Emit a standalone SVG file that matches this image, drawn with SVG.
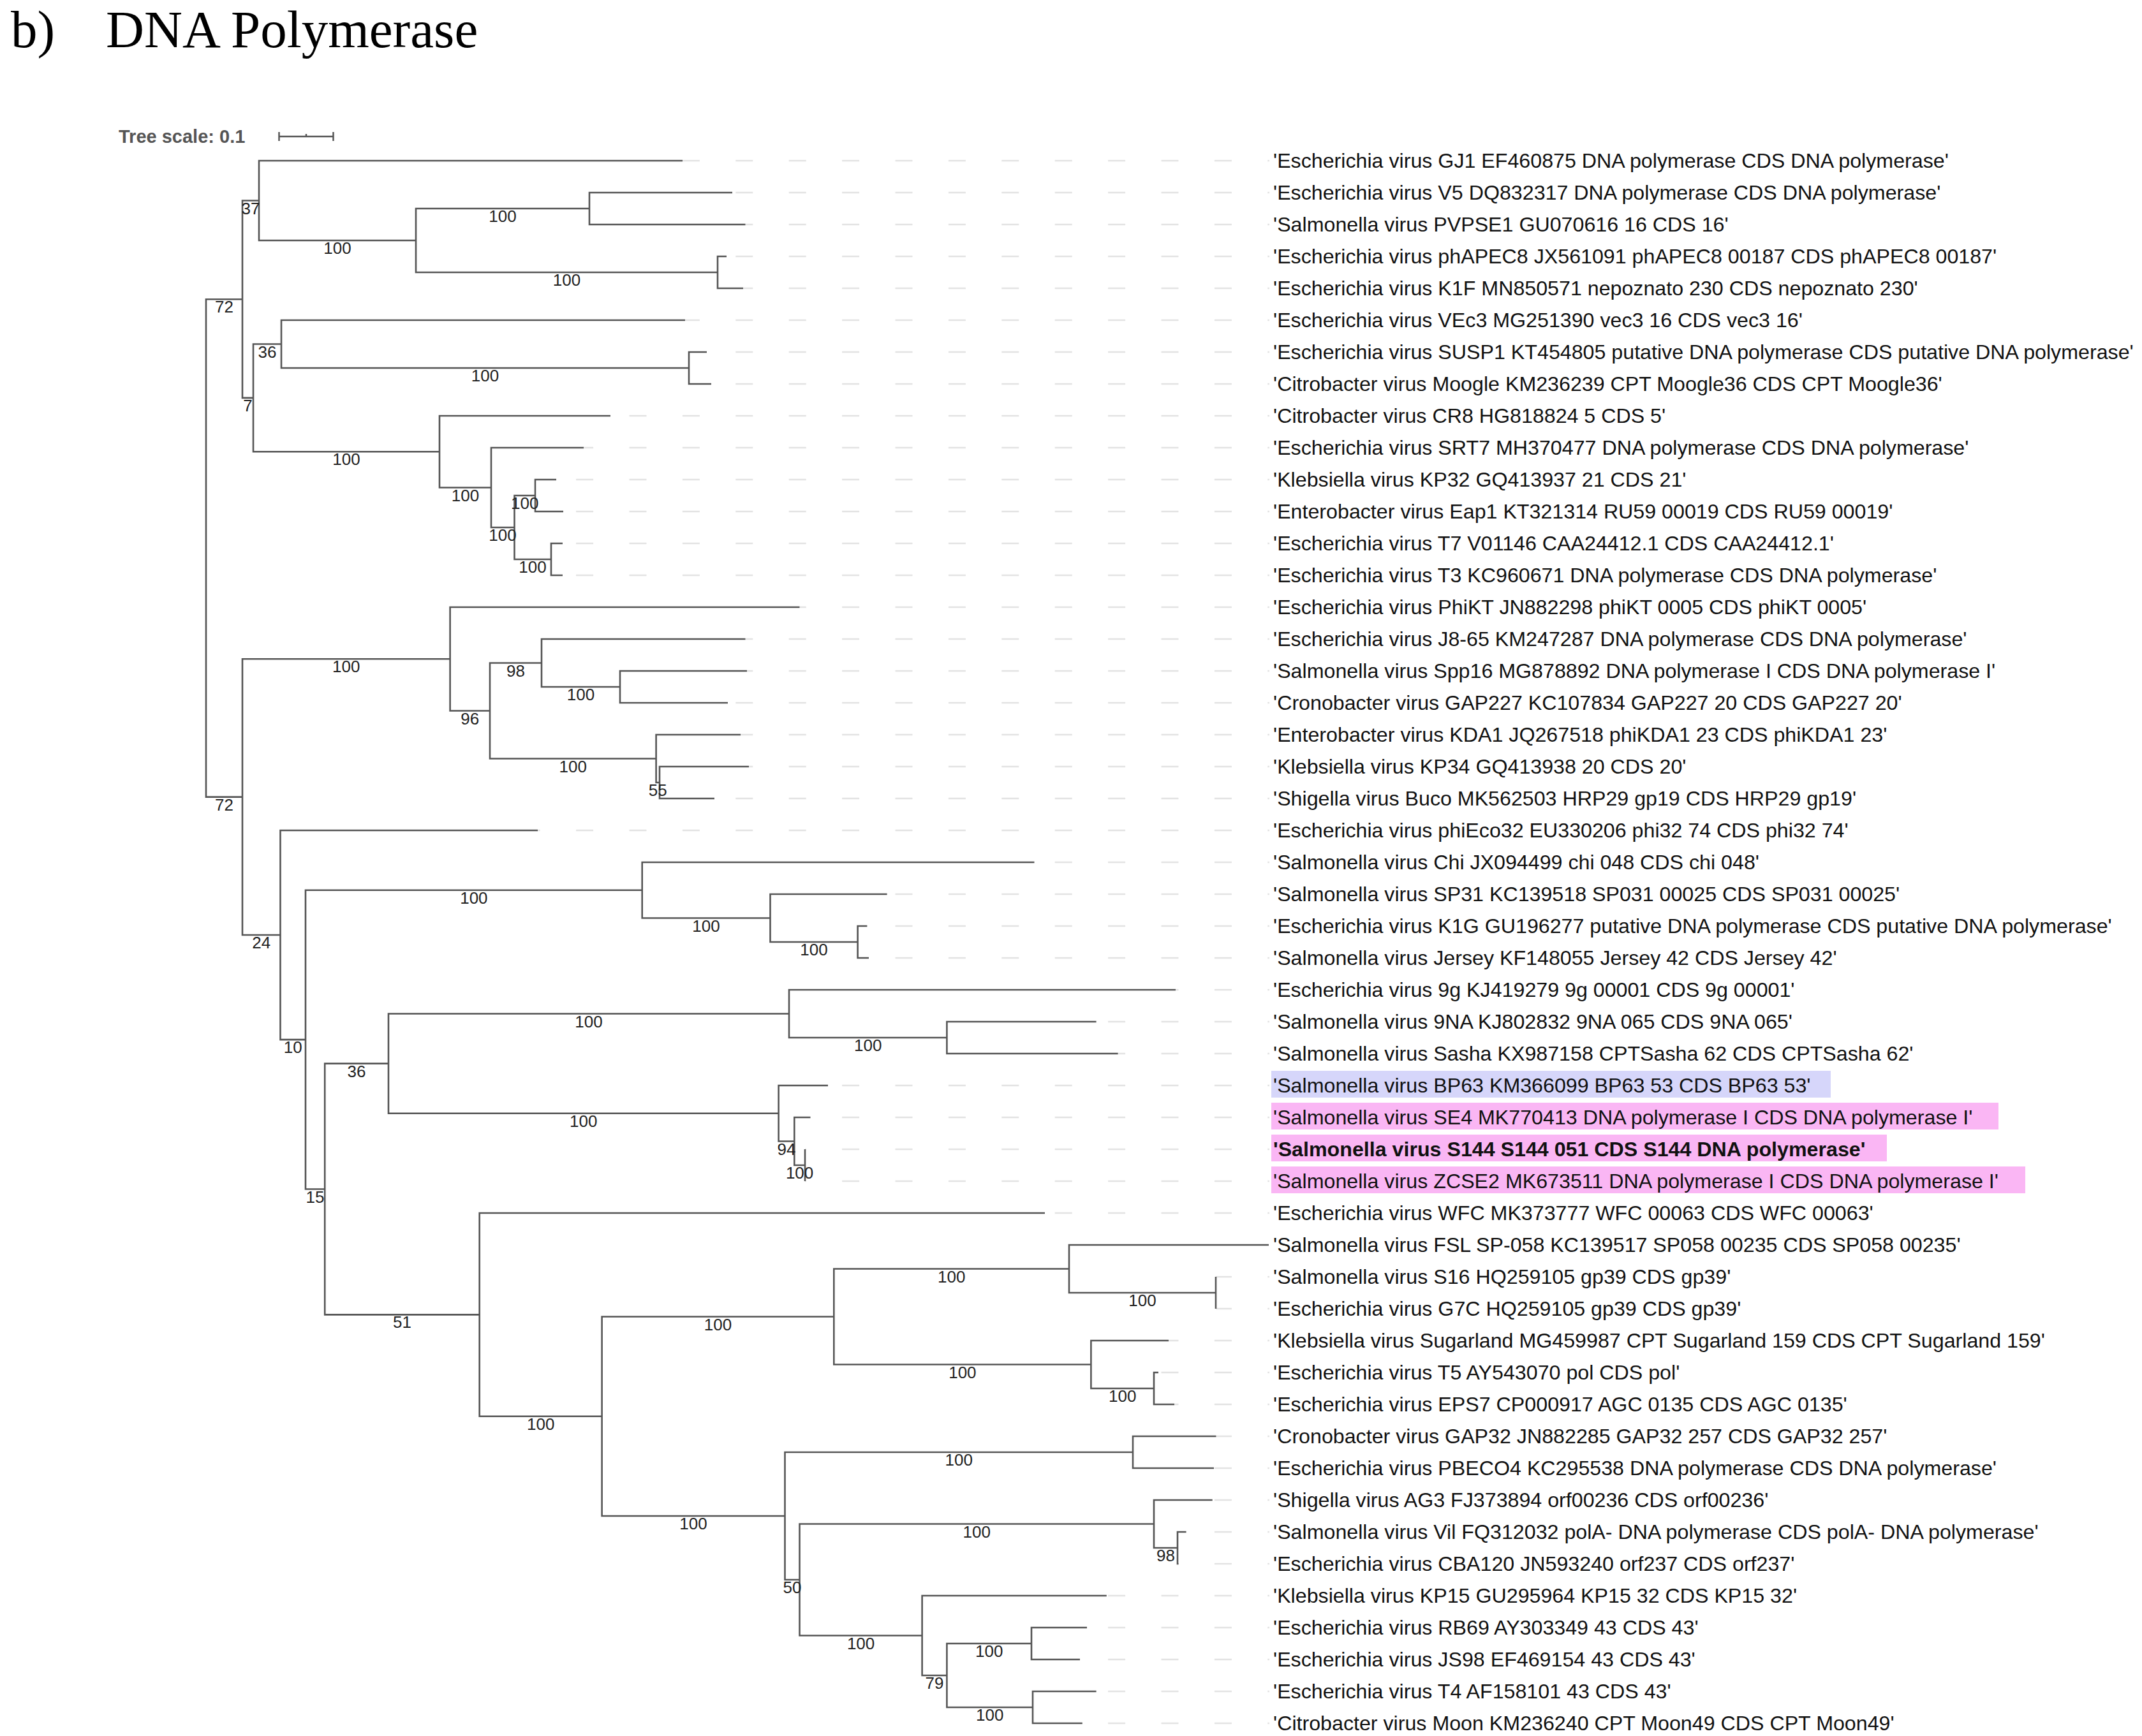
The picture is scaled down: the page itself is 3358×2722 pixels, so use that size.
<svg xmlns="http://www.w3.org/2000/svg" width="3358" height="2722" viewBox="0 0 3358 2722">
<style>
.br{fill:none;stroke:#555;stroke-width:2.6;stroke-linejoin:miter}
.gd{fill:none;stroke:#e3e3e3;stroke-width:2.5;stroke-dasharray:27 56.4}
.lb{font-family:"Liberation Sans",Arial,sans-serif;font-size:32.2px;fill:#111}
.bs{font-family:"Liberation Sans",Arial,sans-serif;font-size:26px;fill:#222;text-anchor:middle}
.hb{fill:#d6d6fa}
.hp{fill:#fab6f4}
</style>
<rect width="3358" height="2722" fill="#fff"/>
<g id="title">
<text x="17" y="74" font-family="Liberation Serif,serif" font-size="83" fill="#000">b)</text>
<text x="166" y="74" font-family="Liberation Serif,serif" font-size="83" fill="#000">DNA Polymerase</text>
</g>
<g id="tree-scale">
<text x="186" y="224" font-family="Liberation Sans,Arial,sans-serif" font-size="29" font-weight="bold" fill="#555">Tree scale: 0.1</text>
<path d="M437 214H523M437.5 207V221M522.5 207V221M480 210V214" stroke="#555" stroke-width="2.5" fill="none"/>
</g>
<g id="guides">
<path class="gd" d="M1070 252H1990" stroke-dashoffset="0.1"/>
<path class="gd" d="M1148 302H1990" stroke-dashoffset="78.1"/>
<path class="gd" d="M1168.5 352H1990" stroke-dashoffset="15.2"/>
<path class="gd" d="M1139 402H1990" stroke-dashoffset="69.1"/>
<path class="gd" d="M1165 452H1990" stroke-dashoffset="11.7"/>
<path class="gd" d="M1074 502H1990" stroke-dashoffset="4.1"/>
<path class="gd" d="M1108 552H1990" stroke-dashoffset="38.1"/>
<path class="gd" d="M1115 602H1990" stroke-dashoffset="45.1"/>
<path class="gd" d="M957 652H1990" stroke-dashoffset="53.9"/>
<path class="gd" d="M915 702H1990" stroke-dashoffset="11.9"/>
<path class="gd" d="M872 752H1990" stroke-dashoffset="52.3"/>
<path class="gd" d="M883 802H1990" stroke-dashoffset="63.3"/>
<path class="gd" d="M882 852H1990" stroke-dashoffset="62.3"/>
<path class="gd" d="M882 902H1990" stroke-dashoffset="62.3"/>
<path class="gd" d="M1253.5 952H1990" stroke-dashoffset="16.8"/>
<path class="gd" d="M1168.5 1002H1990" stroke-dashoffset="15.2"/>
<path class="gd" d="M1171 1052H1990" stroke-dashoffset="17.7"/>
<path class="gd" d="M1141 1102H1990" stroke-dashoffset="71.1"/>
<path class="gd" d="M1161 1152H1990" stroke-dashoffset="7.7"/>
<path class="gd" d="M1174 1202H1990" stroke-dashoffset="20.7"/>
<path class="gd" d="M1120 1252H1990" stroke-dashoffset="50.1"/>
<path class="gd" d="M843 1302H1990" stroke-dashoffset="23.3"/>
<path class="gd" d="M1621.5 1352H1990" stroke-dashoffset="51.2"/>
<path class="gd" d="M1390.6 1402H1990" stroke-dashoffset="70.5"/>
<path class="gd" d="M1359.4 1452H1990" stroke-dashoffset="39.3"/>
<path class="gd" d="M1362 1502H1990" stroke-dashoffset="41.9"/>
<path class="gd" d="M1843 1552H1990" stroke-dashoffset="22.5"/>
<path class="gd" d="M1718.6 1602H1990" stroke-dashoffset="64.9"/>
<path class="gd" d="M1752.6 1652H1990" stroke-dashoffset="15.5"/>
<path class="gd" d="M1298 1702H1990" stroke-dashoffset="61.3"/>
<path class="gd" d="M1270.5 1752H1990" stroke-dashoffset="33.8"/>
<path class="gd" d="M1262 1802H1990" stroke-dashoffset="25.3"/>
<path class="gd" d="M1262 1852H1990" stroke-dashoffset="25.3"/>
<path class="gd" d="M1638 1902H1990" stroke-dashoffset="67.7"/>
<path class="gd" d="M1906 2002H1990" stroke-dashoffset="2.1"/>
<path class="gd" d="M1906 2052H1990" stroke-dashoffset="2.1"/>
<path class="gd" d="M1832 2102H1990" stroke-dashoffset="11.5"/>
<path class="gd" d="M1816 2152H1990" stroke-dashoffset="78.9"/>
<path class="gd" d="M1841 2202H1990" stroke-dashoffset="20.5"/>
<path class="gd" d="M1906.5 2252H1990" stroke-dashoffset="2.6"/>
<path class="gd" d="M1903 2302H1990" stroke-dashoffset="82.5"/>
<path class="gd" d="M1900.7 2352H1990" stroke-dashoffset="80.2"/>
<path class="gd" d="M1859.6 2402H1990" stroke-dashoffset="39.1"/>
<path class="gd" d="M1847.6 2452H1990" stroke-dashoffset="27.1"/>
<path class="gd" d="M1734.8 2502H1990" stroke-dashoffset="81.1"/>
<path class="gd" d="M1704 2552H1990" stroke-dashoffset="50.3"/>
<path class="gd" d="M1693 2602H1990" stroke-dashoffset="39.3"/>
<path class="gd" d="M1718.6 2652H1990" stroke-dashoffset="64.9"/>
<path class="gd" d="M1696.8 2702H1990" stroke-dashoffset="43.1"/>
</g>
<g id="connectors">
<path class="br" d="M1148 302H924V352H1168.5"/>
<path class="br" d="M1139 402H1125V452H1165"/>
<path class="br" d="M924 327H652V427H1125"/>
<path class="br" d="M1070 252H406V377H652"/>
<path class="br" d="M872 752H839V802H883"/>
<path class="br" d="M882 852H864V902H882"/>
<path class="br" d="M839 777H806.5V877H864"/>
<path class="br" d="M915 702H770V827H806.5"/>
<path class="br" d="M957 652H689V764.5H770"/>
<path class="br" d="M1108 552H1080V602H1115"/>
<path class="br" d="M1074 502H441V577H1080"/>
<path class="br" d="M441 539.5H397V708.25H689"/>
<path class="br" d="M406 314.5H380V623.9H397"/>
<path class="br" d="M1174 1202H1034V1252H1120"/>
<path class="br" d="M1161 1152H1028.6V1227H1034"/>
<path class="br" d="M1171 1052H972V1102H1141"/>
<path class="br" d="M1168.5 1002H849V1077H972"/>
<path class="br" d="M849 1039.5H768V1189.5H1028.6"/>
<path class="br" d="M1253.5 952H705.6V1114.5H768"/>
<path class="br" d="M1359.4 1452H1344.6V1502H1362"/>
<path class="br" d="M1390.6 1402H1207.5V1477H1344.6"/>
<path class="br" d="M1621.5 1352H1006.7V1439.5H1207.5"/>
<path class="br" d="M1718.6 1602H1484.4V1652H1752.6"/>
<path class="br" d="M1843 1552H1237V1627H1484.4"/>
<path class="br" d="M1262 1802V1852"/>
<path class="br" d="M1270.5 1752H1245.3V1827H1262"/>
<path class="br" d="M1298 1702H1220.6V1789.5H1245.3"/>
<path class="br" d="M1237 1589.5H609V1745.75H1220.6"/>
<path class="br" d="M1906 2002V2052"/>
<path class="br" d="M1989 1952H1676V2027H1906"/>
<path class="br" d="M1816 2152H1809V2202H1841"/>
<path class="br" d="M1832 2102H1710.4V2177H1809"/>
<path class="br" d="M1676 1989.5H1307.3V2139.5H1710.4"/>
<path class="br" d="M1906.5 2252H1776V2302H1903"/>
<path class="br" d="M1859.6 2402H1846V2452H1847.6"/>
<path class="br" d="M1900.7 2352H1809V2427H1846"/>
<path class="br" d="M1704 2552H1617V2602H1693"/>
<path class="br" d="M1718.6 2652H1619V2702H1696.8"/>
<path class="br" d="M1617 2577H1484.4V2677H1619"/>
<path class="br" d="M1734.8 2502H1445.6V2627H1484.4"/>
<path class="br" d="M1809 2389.5H1253.5V2564.5H1445.6"/>
<path class="br" d="M1776 2277H1230.5V2477H1253.5"/>
<path class="br" d="M1307.3 2064.5H943.6V2377H1230.5"/>
<path class="br" d="M1638 1902H751.7V2220.75H943.6"/>
<path class="br" d="M609 1667.6H509.2V2061.4H751.7"/>
<path class="br" d="M1006.7 1395.75H479V1864.5H509.2"/>
<path class="br" d="M843 1302H439.5V1630.1H479"/>
<path class="br" d="M705.6 1033.25H380V1466H439.5"/>
<path class="br" d="M380 469.2H323V1249.6H380"/>
</g>
<g id="support-values">
<text class="bs" x="351.5" y="490">72</text>
<text class="bs" x="393" y="335.5">37</text>
<text class="bs" x="529" y="398">100</text>
<text class="bs" x="788" y="348">100</text>
<text class="bs" x="888.5" y="448">100</text>
<text class="bs" x="388.5" y="645">7</text>
<text class="bs" x="419" y="560.5">36</text>
<text class="bs" x="760.5" y="598">100</text>
<text class="bs" x="543" y="729">100</text>
<text class="bs" x="729.5" y="785.5">100</text>
<text class="bs" x="788" y="848">100</text>
<text class="bs" x="822.8" y="798">100</text>
<text class="bs" x="835" y="898">100</text>
<text class="bs" x="351.5" y="1270.6">72</text>
<text class="bs" x="542.8" y="1054">100</text>
<text class="bs" x="736.8" y="1135.5">96</text>
<text class="bs" x="808.5" y="1060.5">98</text>
<text class="bs" x="910.5" y="1098">100</text>
<text class="bs" x="898.3" y="1210.5">100</text>
<text class="bs" x="1031.3" y="1248">55</text>
<text class="bs" x="409.8" y="1487">24</text>
<text class="bs" x="459.3" y="1651">10</text>
<text class="bs" x="742.9" y="1416.8">100</text>
<text class="bs" x="1107" y="1460.5">100</text>
<text class="bs" x="1276" y="1498">100</text>
<text class="bs" x="494" y="1885.5">15</text>
<text class="bs" x="559" y="1688.6">36</text>
<text class="bs" x="923" y="1610.5">100</text>
<text class="bs" x="1360.7" y="1648">100</text>
<text class="bs" x="914.8" y="1766.8">100</text>
<text class="bs" x="1233" y="1810.5">94</text>
<text class="bs" x="1253.6" y="1848">100</text>
<text class="bs" x="630.5" y="2082.4">51</text>
<text class="bs" x="847.7" y="2241.8">100</text>
<text class="bs" x="1125.5" y="2085.5">100</text>
<text class="bs" x="1491.7" y="2010.5">100</text>
<text class="bs" x="1791" y="2048">100</text>
<text class="bs" x="1508.9" y="2160.5">100</text>
<text class="bs" x="1759.7" y="2198">100</text>
<text class="bs" x="1087" y="2398">100</text>
<text class="bs" x="1503.3" y="2298">100</text>
<text class="bs" x="1242" y="2498">50</text>
<text class="bs" x="1531.3" y="2410.5">100</text>
<text class="bs" x="1827.5" y="2448">98</text>
<text class="bs" x="1349.6" y="2585.5">100</text>
<text class="bs" x="1465" y="2648">79</text>
<text class="bs" x="1550.7" y="2598">100</text>
<text class="bs" x="1551.7" y="2698">100</text>
</g>
<g id="leaf-labels">
<g id="leaf00"><text class="lb" x="1996" y="263">'Escherichia virus GJ1 EF460875 DNA polymerase CDS DNA polymerase'</text></g>
<g id="leaf01"><text class="lb" x="1996" y="313">'Escherichia virus V5 DQ832317 DNA polymerase CDS DNA polymerase'</text></g>
<g id="leaf02"><text class="lb" x="1996" y="363">'Salmonella virus PVPSE1 GU070616 16 CDS 16'</text></g>
<g id="leaf03"><text class="lb" x="1996" y="413">'Escherichia virus phAPEC8 JX561091 phAPEC8 00187 CDS phAPEC8 00187'</text></g>
<g id="leaf04"><text class="lb" x="1996" y="463">'Escherichia virus K1F MN850571 nepoznato 230 CDS nepoznato 230'</text></g>
<g id="leaf05"><text class="lb" x="1996" y="513">'Escherichia virus VEc3 MG251390 vec3 16 CDS vec3 16'</text></g>
<g id="leaf06"><text class="lb" x="1996" y="563">'Escherichia virus SUSP1 KT454805 putative DNA polymerase CDS putative DNA polymerase'</text></g>
<g id="leaf07"><text class="lb" x="1996" y="613">'Citrobacter virus Moogle KM236239 CPT Moogle36 CDS CPT Moogle36'</text></g>
<g id="leaf08"><text class="lb" x="1996" y="663">'Citrobacter virus CR8 HG818824 5 CDS 5'</text></g>
<g id="leaf09"><text class="lb" x="1996" y="713">'Escherichia virus SRT7 MH370477 DNA polymerase CDS DNA polymerase'</text></g>
<g id="leaf10"><text class="lb" x="1996" y="763">'Klebsiella virus KP32 GQ413937 21 CDS 21'</text></g>
<g id="leaf11"><text class="lb" x="1996" y="813">'Enterobacter virus Eap1 KT321314 RU59 00019 CDS RU59 00019'</text></g>
<g id="leaf12"><text class="lb" x="1996" y="863">'Escherichia virus T7 V01146 CAA24412.1 CDS CAA24412.1'</text></g>
<g id="leaf13"><text class="lb" x="1996" y="913">'Escherichia virus T3 KC960671 DNA polymerase CDS DNA polymerase'</text></g>
<g id="leaf14"><text class="lb" x="1996" y="963">'Escherichia virus PhiKT JN882298 phiKT 0005 CDS phiKT 0005'</text></g>
<g id="leaf15"><text class="lb" x="1996" y="1013">'Escherichia virus J8-65 KM247287 DNA polymerase CDS DNA polymerase'</text></g>
<g id="leaf16"><text class="lb" x="1996" y="1063">'Salmonella virus Spp16 MG878892 DNA polymerase I CDS DNA polymerase I'</text></g>
<g id="leaf17"><text class="lb" x="1996" y="1113">'Cronobacter virus GAP227 KC107834 GAP227 20 CDS GAP227 20'</text></g>
<g id="leaf18"><text class="lb" x="1996" y="1163">'Enterobacter virus KDA1 JQ267518 phiKDA1 23 CDS phiKDA1 23'</text></g>
<g id="leaf19"><text class="lb" x="1996" y="1213">'Klebsiella virus KP34 GQ413938 20 CDS 20'</text></g>
<g id="leaf20"><text class="lb" x="1996" y="1263">'Shigella virus Buco MK562503 HRP29 gp19 CDS HRP29 gp19'</text></g>
<g id="leaf21"><text class="lb" x="1996" y="1313">'Escherichia virus phiEco32 EU330206 phi32 74 CDS phi32 74'</text></g>
<g id="leaf22"><text class="lb" x="1996" y="1363">'Salmonella virus Chi JX094499 chi 048 CDS chi 048'</text></g>
<g id="leaf23"><text class="lb" x="1996" y="1413">'Salmonella virus SP31 KC139518 SP031 00025 CDS SP031 00025'</text></g>
<g id="leaf24"><text class="lb" x="1996" y="1463">'Escherichia virus K1G GU196277 putative DNA polymerase CDS putative DNA polymerase'</text></g>
<g id="leaf25"><text class="lb" x="1996" y="1513">'Salmonella virus Jersey KF148055 Jersey 42 CDS Jersey 42'</text></g>
<g id="leaf26"><text class="lb" x="1996" y="1563">'Escherichia virus 9g KJ419279 9g 00001 CDS 9g 00001'</text></g>
<g id="leaf27"><text class="lb" x="1996" y="1613">'Salmonella virus 9NA KJ802832 9NA 065 CDS 9NA 065'</text></g>
<g id="leaf28"><text class="lb" x="1996" y="1663">'Salmonella virus Sasha KX987158 CPTSasha 62 CDS CPTSasha 62'</text></g>
<g id="leaf29"><rect class="hb" x="1993" y="1679" width="877" height="42"/><text class="lb" x="1996" y="1713">'Salmonella virus BP63 KM366099 BP63 53 CDS BP63 53'</text></g>
<g id="leaf30"><rect class="hp" x="1993" y="1729" width="1140" height="42"/><text class="lb" x="1996" y="1763">'Salmonella virus SE4 MK770413 DNA polymerase I CDS DNA polymerase I'</text></g>
<g id="leaf31"><rect class="hp" x="1993" y="1779" width="965" height="42"/><text class="lb" x="1996" y="1813" font-weight="bold">'Salmonella virus S144 S144 051 CDS S144 DNA polymerase'</text></g>
<g id="leaf32"><rect class="hp" x="1993" y="1829" width="1182" height="42"/><text class="lb" x="1996" y="1863">'Salmonella virus ZCSE2 MK673511 DNA polymerase I CDS DNA polymerase I'</text></g>
<g id="leaf33"><text class="lb" x="1996" y="1913">'Escherichia virus WFC MK373777 WFC 00063 CDS WFC 00063'</text></g>
<g id="leaf34"><text class="lb" x="1996" y="1963">'Salmonella virus FSL SP-058 KC139517 SP058 00235 CDS SP058 00235'</text></g>
<g id="leaf35"><text class="lb" x="1996" y="2013">'Salmonella virus S16 HQ259105 gp39 CDS gp39'</text></g>
<g id="leaf36"><text class="lb" x="1996" y="2063">'Escherichia virus G7C HQ259105 gp39 CDS gp39'</text></g>
<g id="leaf37"><text class="lb" x="1996" y="2113">'Klebsiella virus Sugarland MG459987 CPT Sugarland 159 CDS CPT Sugarland 159'</text></g>
<g id="leaf38"><text class="lb" x="1996" y="2163">'Escherichia virus T5 AY543070 pol CDS pol'</text></g>
<g id="leaf39"><text class="lb" x="1996" y="2213">'Escherichia virus EPS7 CP000917 AGC 0135 CDS AGC 0135'</text></g>
<g id="leaf40"><text class="lb" x="1996" y="2263">'Cronobacter virus GAP32 JN882285 GAP32 257 CDS GAP32 257'</text></g>
<g id="leaf41"><text class="lb" x="1996" y="2313">'Escherichia virus PBECO4 KC295538 DNA polymerase CDS DNA polymerase'</text></g>
<g id="leaf42"><text class="lb" x="1996" y="2363">'Shigella virus AG3 FJ373894 orf00236 CDS orf00236'</text></g>
<g id="leaf43"><text class="lb" x="1996" y="2413">'Salmonella virus Vil FQ312032 polA- DNA polymerase CDS polA- DNA polymerase'</text></g>
<g id="leaf44"><text class="lb" x="1996" y="2463">'Escherichia virus CBA120 JN593240 orf237 CDS orf237'</text></g>
<g id="leaf45"><text class="lb" x="1996" y="2513">'Klebsiella virus KP15 GU295964 KP15 32 CDS KP15 32'</text></g>
<g id="leaf46"><text class="lb" x="1996" y="2563">'Escherichia virus RB69 AY303349 43 CDS 43'</text></g>
<g id="leaf47"><text class="lb" x="1996" y="2613">'Escherichia virus JS98 EF469154 43 CDS 43'</text></g>
<g id="leaf48"><text class="lb" x="1996" y="2663">'Escherichia virus T4 AF158101 43 CDS 43'</text></g>
<g id="leaf49"><text class="lb" x="1996" y="2713">'Citrobacter virus Moon KM236240 CPT Moon49 CDS CPT Moon49'</text></g>
</g>
</svg>
